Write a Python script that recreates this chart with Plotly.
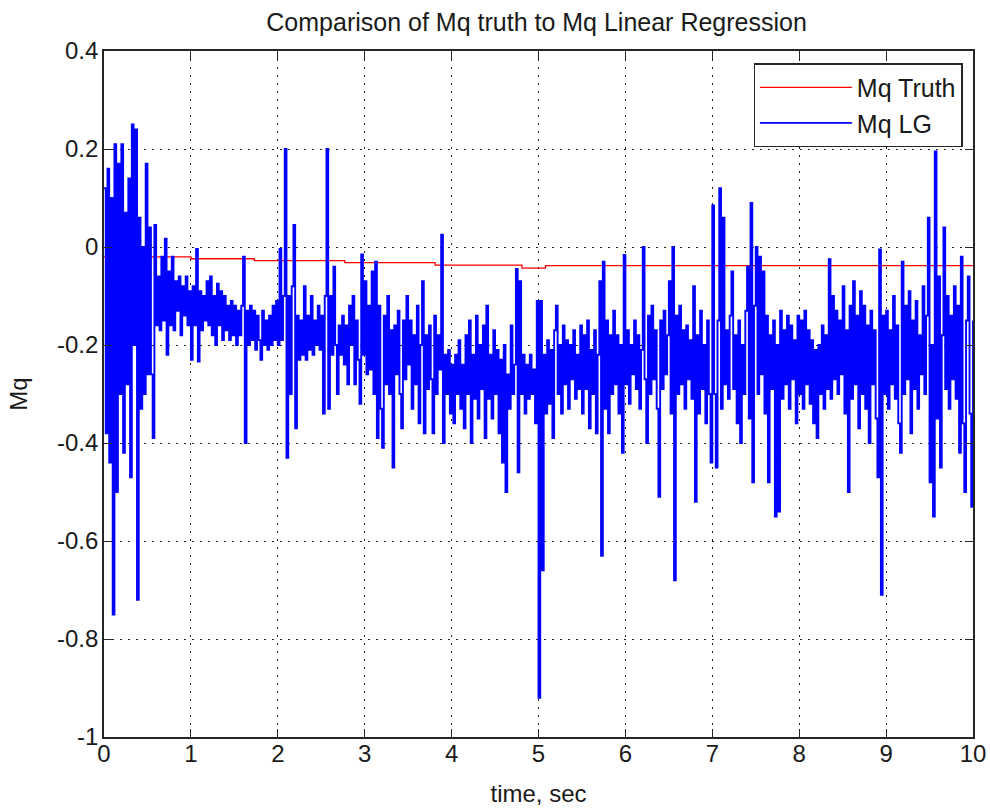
import numpy as np
import plotly.graph_objects as go

# Sample spacing of the estimated Mq signal (seconds)
dt = 0.02

# Linear-regression estimate of Mq, one row per second of flight time
mq_lg = [
    # 0 - 1 s
    0.12, -0.38, 0.16, -0.44, 0.10, -0.75, 0.21, -0.50, 0.17, -0.30,
    0.21, -0.42, 0.07, -0.28, 0.14, -0.47, 0.25, -0.20, 0.24, -0.72,
    0.06, -0.33, 0.00, -0.30, 0.17, -0.26, 0.04, -0.26, -0.39, 0.045,
    -0.16, -0.06, -0.17, -0.02, -0.15, 0.017, -0.22, -0.05, -0.16, -0.02,
    -0.17, -0.07, -0.13, -0.06, -0.18, -0.08, -0.14, -0.06, -0.16, -0.09,
    # 1 - 2 s
    -0.23, -0.08, -0.16, -0.004, -0.234, -0.09, -0.17, -0.10, -0.15, -0.07,
    -0.16, -0.06, -0.18, -0.10, -0.20, -0.075, -0.16, -0.09, -0.19, -0.10,
    -0.17, -0.12, -0.19, -0.11, -0.18, -0.12, -0.20, -0.13, -0.18, -0.12,
    -0.02, -0.40, -0.13, -0.20, -0.12, -0.19, -0.13, -0.21, -0.14, -0.19,
    -0.23, -0.13, -0.20, -0.15, -0.21, -0.14, -0.20, -0.12, -0.19, -0.11,
    # 2 - 3 s
    -0.20, -0.004, -0.19, -0.10, 0.20, -0.43, -0.10, -0.30, -0.08, 0.045,
    -0.37, -0.14, -0.23, -0.15, -0.22, -0.08, -0.23, -0.14, -0.21, -0.10,
    -0.22, -0.15, -0.20, -0.12, -0.21, -0.14, -0.34, -0.10, 0.20, -0.33,
    -0.10, -0.22, -0.04, -0.20, -0.30, -0.16, -0.22, -0.14, -0.24, -0.16,
    -0.28, -0.12, -0.20, -0.10, -0.28, -0.15, -0.23, -0.32, -0.015, -0.22,
    # 3 - 4 s
    -0.07, -0.26, -0.12, -0.25, -0.05, -0.30, -0.03, -0.39, -0.12, -0.33,
    -0.41, -0.14, -0.28, -0.10, -0.30, -0.17, -0.45, -0.16, -0.26, -0.13,
    -0.30, -0.37, -0.15, -0.27, -0.10, -0.24, -0.15, -0.33, -0.18, -0.28,
    -0.12, -0.36, -0.20, -0.07, -0.38, -0.18, -0.29, -0.16, -0.27, -0.38,
    -0.14, -0.30, -0.18, -0.25, 0.025, -0.40, -0.22, -0.30, -0.21, -0.34,
    # 4 - 5 s
    -0.24, -0.36, -0.22, -0.30, -0.19, -0.33, -0.24, -0.37, -0.18, -0.30,
    -0.15, -0.40, -0.22, -0.31, -0.14, -0.35, -0.20, -0.29, -0.16, -0.39,
    -0.12, -0.31, -0.22, -0.35, -0.17, -0.30, -0.21, -0.38, -0.23, -0.44,
    -0.20, -0.50, -0.26, -0.33, -0.16, -0.30, -0.24, -0.045, -0.46, -0.07,
    -0.30, -0.22, -0.34, -0.24, -0.31, -0.22, -0.30, -0.25, -0.36, -0.11,
    # 5 - 6 s
    -0.92, -0.11, -0.66, -0.22, -0.34, -0.19, -0.32, -0.21, -0.39, -0.17,
    -0.12, -0.30, -0.20, -0.34, -0.16, -0.28, -0.19, -0.33, -0.20, -0.27,
    -0.17, -0.31, -0.22, -0.29, -0.16, -0.34, -0.18, -0.29, -0.15, -0.37,
    -0.21, -0.30, -0.17, -0.38, -0.22, -0.07, -0.63, -0.03, -0.33, -0.15,
    -0.38, -0.18, -0.30, -0.13, -0.28, -0.18, -0.34, -0.20, -0.42, -0.016,
    # 6 - 7 s
    -0.28, -0.17, -0.32, -0.20, -0.26, -0.15, -0.29, -0.18, -0.33, -0.21,
    0.00, -0.27, -0.40, -0.14, -0.30, -0.12, -0.27, -0.17, -0.33, -0.51,
    -0.15, -0.29, -0.13, -0.26, -0.18, -0.07, -0.34, 0.00, -0.68, -0.14,
    -0.30, -0.12, -0.28, -0.17, -0.33, -0.16, -0.27, -0.19, -0.31, -0.08,
    -0.52, -0.18, -0.34, -0.13, -0.29, -0.20, -0.36, -0.15, -0.30, -0.44,
    # 7 - 8 s
    0.085, -0.30, -0.45, -0.15, 0.12, -0.33, 0.06, -0.28, -0.17, -0.31,
    -0.14, -0.05, -0.29, -0.18, -0.36, -0.15, -0.40, -0.20, -0.30, -0.13,
    -0.04, -0.35, 0.09, -0.48, -0.12, 0.00, -0.30, -0.02, -0.26, -0.05,
    -0.34, -0.14, -0.48, -0.18, -0.29, -0.15, -0.55, -0.20, -0.54, -0.13,
    -0.31, -0.17, -0.28, -0.14, -0.33, -0.16, -0.27, -0.19, -0.36, -0.14,
    # 8 - 9 s
    -0.30, -0.15, -0.33, -0.13, -0.28, -0.17, -0.32, -0.19, -0.36, -0.21,
    -0.39, -0.20, -0.30, -0.16, -0.33, -0.18, -0.29, -0.025, -0.31, -0.10,
    -0.27, -0.13, -0.30, -0.15, -0.26, -0.08, -0.34, -0.17, -0.50, -0.12,
    -0.31, -0.07, -0.28, -0.14, -0.37, -0.09, -0.30, -0.12, -0.33, -0.16,
    -0.40, -0.13, -0.28, -0.17, -0.35, -0.47, -0.005, -0.71, -0.14, -0.30,
    # 9 - 10 s
    -0.13, -0.33, -0.17, -0.28, -0.10, -0.31, -0.16, -0.36, -0.42, -0.03,
    -0.30, -0.12, -0.27, -0.09, -0.38, -0.15, -0.29, -0.11, -0.33, -0.18,
    -0.26, -0.08, -0.30, -0.14, 0.06, -0.48, -0.20, -0.55, 0.195, -0.35,
    -0.06, -0.45, -0.18, 0.04, -0.29, -0.10, -0.33, -0.14, -0.27, -0.08,
    -0.31, -0.12, -0.42, -0.02, -0.36, -0.50, -0.15, -0.06, -0.34, -0.53,
    -0.15,
]

# True Mq: piecewise-constant steps (time, value)
truth_t = [0.0, 1.0, 1.0, 1.73, 1.73, 2.77, 2.77, 3.81, 3.81, 4.81, 4.81, 5.08, 5.08, 10.0]
truth_v = [-0.020, -0.020, -0.024, -0.024, -0.028, -0.028, -0.032, -0.032, -0.037, -0.037,
           -0.043, -0.043, -0.038, -0.038]

x_ticks = [0, 1, 2, 3, 4, 5, 6, 7, 8, 9, 10]
y_ticks = [0.4, 0.2, 0, -0.2, -0.4, -0.6, -0.8, -1]
y_tick_text = ["0.4", "0.2", "0", "-0.2", "-0.4", "-0.6", "-0.8", "-1"]

t_lg = np.arange(len(mq_lg)) * dt

FONT = "Liberation Sans, Arial, sans-serif"
TXT = dict(family=FONT, size=24, color="#1a1a1a")

fig = go.Figure()
fig.add_trace(go.Scatter(
    x=truth_t, y=truth_v, mode="lines", name="Mq Truth",
    line=dict(color="#ff0000", width=1.3),
))
fig.add_trace(go.Scatter(
    x=t_lg, y=mq_lg, mode="lines", name="Mq LG",
    line=dict(color="#0000ff", width=1.9, shape="hv"),
))

axis_common = dict(
    showline=True, linecolor="#262626", linewidth=1.6, mirror="allticks",
    ticks="inside", ticklen=8, tickcolor="#262626", tickwidth=1.3,
    showgrid=True, gridcolor="#222222", gridwidth=1.4, griddash="2px,6px",
    zeroline=False, tickfont=TXT, automargin=False,
)

fig.update_layout(
    width=990, height=810,
    margin=dict(l=104, r=17, t=51, b=73),
    paper_bgcolor="white", plot_bgcolor="white",
    title=dict(text="Comparison of Mq truth to Mq Linear Regression",
               x=0.542, xanchor="center", y=0.973, yanchor="middle",
               font=dict(family=FONT, size=25, color="#1a1a1a")),
    xaxis=dict(range=[0, 10], tickvals=x_ticks, ticklabelstandoff=-6,
               title=dict(text="time, sec", font=TXT, standoff=20),
               **axis_common),
    yaxis=dict(range=[-1, 0.4], tickvals=y_ticks, ticktext=y_tick_text,
               ticklabelstandoff=-1,
               title=dict(text="Mq", font=TXT, standoff=23),
               **axis_common),
    legend=dict(x=0.988, y=0.982, xanchor="right", yanchor="top",
                bgcolor="white", bordercolor="#262626", borderwidth=1.3,
                font=dict(family=FONT, size=25, color="#1a1a1a"),
                itemwidth=92, entrywidth=120, entrywidthmode="pixels",
                tracegroupgap=0),
    showlegend=True,
)

fig.write_html("out.html")
